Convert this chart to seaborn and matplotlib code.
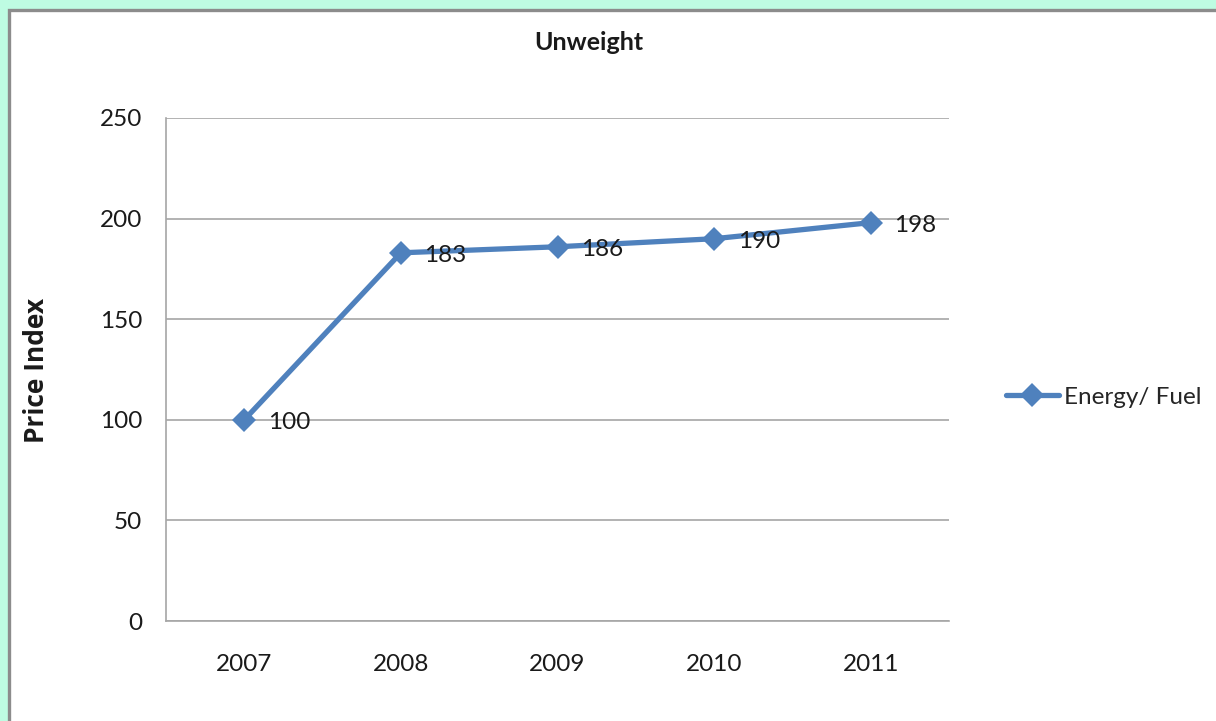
import pandas as pd
import matplotlib.pyplot as plt
import seaborn as sns
from matplotlib.patches import Rectangle

# values
years = ['2007', '2008', '2009', '2010', '2011']
energy_fuel = [100, 183, 186, 190, 198]
y_ticks = [0, 50, 100, 150, 200, 250]

df = pd.DataFrame({'year': years, 'index': energy_fuel})

sns.set_style('white')
plt.rcParams['font.family'] = ['Lato', 'DejaVu Sans']

line_color = '#4F81BD'
grid_color = '#A6A6A6'

fig = plt.figure(figsize=(12.16, 7.21), dpi=100, facecolor='#BEFCE2')
# white chart area with grey frame (top/left visible)
fig.patches.append(Rectangle((8.5 / 1216, -0.1), 1.2, (721 - 9.5) / 721 + 0.1,
                             transform=fig.transFigure, facecolor='white',
                             edgecolor='#8C8C8C', linewidth=2.4, zorder=-1))

ax = fig.add_axes([166 / 1216, 100 / 721, 783 / 1216, 503 / 721])
ax.set_facecolor('white')

sns.lineplot(data=df, x='year', y='index', ax=ax, color=line_color,
             linewidth=3.8, marker='D', markersize=12.5, markeredgewidth=0,
             label='Energy/ Fuel', sort=False)

for i, v in enumerate(energy_fuel):
    ax.annotate(str(v), (i, v), xytext=(17, -2), textcoords='offset points',
                ha='left', va='center', fontsize=17.5, color='#1a1a1a')

ax.set_xlim(-0.5, len(years) - 0.5)
ax.set_ylim(0, 250)
ax.set_yticks(y_ticks)
ax.yaxis.grid(True, color=grid_color, linewidth=1.2)
ax.set_axisbelow(True)
for side in ['top', 'right']:
    ax.spines[side].set_visible(False)
for side in ['left', 'bottom']:
    ax.spines[side].set_color(grid_color)
    ax.spines[side].set_linewidth(1.2)
ax.tick_params(axis='both', length=0, labelsize=17.5, colors='#1a1a1a')
ax.tick_params(axis='y', pad=17)
ax.tick_params(axis='x', pad=24)
ax.set_xlabel('')
ax.set_ylabel('')

fig.text(589 / 1216, 1 - 42 / 721, 'Unweight', ha='center', va='center',
         fontsize=18, fontweight='bold', color='#1a1a1a')
fig.text(37 / 1216, 1 - 370 / 721, 'Price Index', ha='center', va='center',
         rotation=90, fontsize=19, fontweight='bold', color='#1a1a1a',
         family=['Open Sans', 'DejaVu Sans'])

ax.legend(loc='center left', bbox_to_anchor=(996 / 1216, 1 - 397 / 721),
          bbox_transform=fig.transFigure, frameon=False, fontsize=17.5,
          handlelength=2.2, handletextpad=0.2, borderaxespad=0)

fig.savefig('out.png', dpi=100, facecolor=fig.get_facecolor())
plt.close(fig)
